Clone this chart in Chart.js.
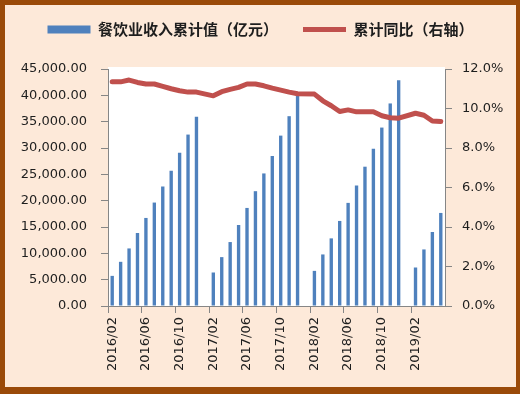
<!DOCTYPE html>
<html>
<head>
<meta charset="utf-8">
<script src="https://cdn.jsdelivr.net/npm/chart.js@4.4.0/dist/chart.umd.min.js"></script>
<style>
  html, body { margin: 0; padding: 0; background: #ffffff; }
  #frame {
    width: 511px; height: 382px;
    border-style: solid; border-color: #9a4a09;
    border-width: 5px 4px 7px 5px;
    background: #fde9d9;
  }
  canvas { display: block; }
</style>
</head>
<body>
<div id="frame"><canvas id="chart" width="511" height="382"></canvas></div>
<script>
// 月份（1月无单独数据）
const months = [
  '2016/02', '2016/03', '2016/04', '2016/05', '2016/06', '2016/07', '2016/08', '2016/09', '2016/10', '2016/11', '2016/12',
  '2017/01', '2017/02', '2017/03', '2017/04', '2017/05', '2017/06', '2017/07', '2017/08', '2017/09', '2017/10', '2017/11', '2017/12',
  '2018/01', '2018/02', '2018/03', '2018/04', '2018/05', '2018/06', '2018/07', '2018/08', '2018/09', '2018/10', '2018/11', '2018/12',
  '2019/01', '2019/02', '2019/03', '2019/04', '2019/05'
];

// 餐饮业收入累计值（亿元）
const revenue = [
  5720, 8390, 10930, 13860, 16720, 19640, 22690, 25680, 29120, 32550, 35910,
  null, 6360, 9280, 12140, 15380, 18620, 21800, 25170, 28480, 32350, 36040, 39920,
  null, 6670, 9790, 12840, 16150, 19580, 22880, 26450, 29880, 33880, 38460, 42850,
  null, 7310, 10740, 14050, 17670
];

// 累计同比（%，右轴）
const yoy = [
  11.35, 11.35, 11.44, 11.32, 11.24, 11.24, 11.12, 11.00, 10.90, 10.83, 10.83,
  null, 10.64, 10.85, 10.97, 11.07, 11.24, 11.24, 11.15, 11.03, 10.93, 10.83, 10.75,
  null, 10.73, 10.39, 10.14, 9.85, 9.93, 9.83, 9.83, 9.83, 9.63, 9.53, 9.51,
  null, 9.76, 9.66, 9.37, 9.34
];

// 坐标轴刻度
const leftMax = 45000, leftStep = 5000;
const rightMax = 12, rightStep = 2;
const labelEvery = 4;

const numFont = { family: 'DejaVu Sans', size: 13 };
const textColor = '#1e1e1e';
const axisColor = '#868686';

// 绘图区白底
const plotBackground = {
    id: 'plotBackground',
    beforeDraw(chart) {
        const a = chart.chartArea;
        const ctx = chart.ctx;
        ctx.save();
        ctx.fillStyle = '#ffffff';
        ctx.fillRect(a.left, a.top - 2, a.right - a.left, a.bottom - a.top + 2);
        ctx.restore();
    }
};

// 图例下方留白
const legendSpacer = {
    id: 'legendSpacer',
    beforeInit(chart) {
        const fit = chart.legend.fit;
        chart.legend.fit = function () {
            fit.bind(chart.legend)();
            this.height += 22;
        };
    }
};

const ctx = document.getElementById('chart').getContext('2d');
const chart = new Chart(ctx, {
    type: 'bar',
    data: {
        labels: months,
        datasets: [
            {
                type: 'line',
                label: '累计同比（右轴）',
                data: yoy,
                yAxisID: 'y1',
                borderColor: '#c0504d',
                backgroundColor: '#c0504d',
                borderWidth: 5,
                borderCapStyle: 'round',
                borderJoinStyle: 'round',
                pointRadius: 0,
                pointStyle: 'line',
                tension: 0,
                spanGaps: true,
                order: 0
            },
            {
                label: '餐饮业收入累计值（亿元）',
                data: revenue,
                yAxisID: 'y',
                backgroundColor: '#4f81bd',
                borderWidth: 0,
                pointStyle: 'rect',
                barPercentage: 0.4,
                categoryPercentage: 1.0,
                order: 1
            }
        ]
    },
    options: {
        responsive: false,
        animation: false,
        layout: { padding: { top: -8, left: 0, right: 0, bottom: 0 } },
        plugins: {
            tooltip: { enabled: false },
            legend: {
                position: 'top',
                reverse: true,
                labels: {
                    usePointStyle: true,
                    pointStyleWidth: 43,
                    boxHeight: 8,
                    padding: 25,
                    color: textColor,
                    font: { family: 'Noto Sans CJK SC', size: 15, weight: 'bold' }
                }
            }
        },
        scales: {
            x: {
                offset: true,
                grid: {
                    offset: true,
                    drawOnChartArea: false,
                    tickLength: 7,
                    color: (c) => (c.index % labelEvery === 0 ? axisColor : 'rgba(0,0,0,0)')
                },
                border: { color: axisColor, width: 1 },
                ticks: {
                    autoSkip: false,
                    minRotation: 90,
                    maxRotation: 90,
                    padding: 4,
                    color: textColor,
                    font: numFont,
                    callback: (v, i) => (i % labelEvery === 0 ? months[i] : '')
                },
                afterFit: (scale) => { scale.height = 81; }
            },
            y: {
                position: 'left',
                min: 0,
                max: leftMax,
                grid: { drawOnChartArea: false, tickLength: 7, color: axisColor },
                border: { color: axisColor, width: 1 },
                ticks: {
                    stepSize: leftStep,
                    padding: 14,
                    color: textColor,
                    font: numFont,
                    callback: (v) => v.toLocaleString('en-US', { minimumFractionDigits: 2, maximumFractionDigits: 2 })
                },
                afterFit: (scale) => { scale.width = 103; }
            },
            y1: {
                position: 'right',
                min: 0,
                max: rightMax,
                grid: { drawOnChartArea: false, tickLength: 7, color: axisColor },
                border: { color: axisColor, width: 1 },
                ticks: {
                    stepSize: rightStep,
                    padding: 10,
                    color: textColor,
                    font: numFont,
                    callback: (v) => v.toFixed(1) + '%'
                },
                afterFit: (scale) => { scale.width = 71; }
            }
        }
    },
    plugins: [plotBackground, legendSpacer]
});
</script>
</body>
</html>
